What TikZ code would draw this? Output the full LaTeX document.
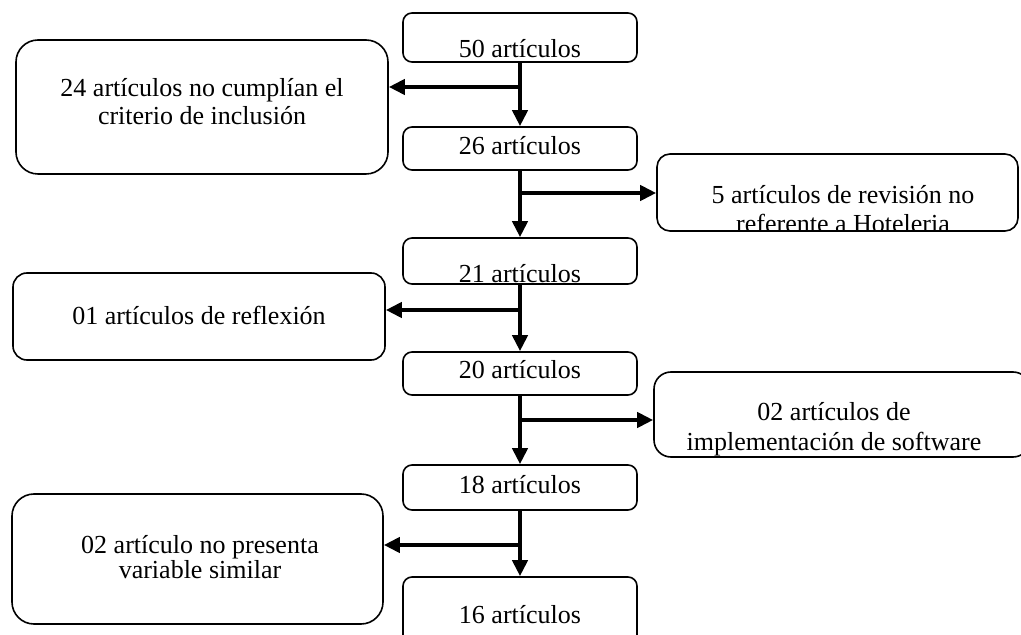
\documentclass[tikz,border=0pt]{standalone}
\usepackage{fontspec}
\setmainfont{Liberation Serif}
\usetikzlibrary{arrows.meta}
\def\px{0.5pt}
\def\midcol{520}

\begin{document}
\begin{tikzpicture}[x=\px,y=-\px]
        \tikzstyle{box}=[draw, line width=0.8pt, inner sep=0pt]
        \tikzstyle{count box}=[box, rounded corners=4.5pt, minimum width=234*\px]
        \tikzstyle{side box}=[box, minimum width=372*\px]
        \tikzstyle{box text}=[inner sep=0pt, align=center, font=\fontsize{13}{14}\selectfont]
        \tikzstyle{flow}=[line width=2.2pt, -{Triangle[length=8pt,width=7.5pt]}]

        \useasboundingbox (0,0) rectangle (1021,635);
        \clip (0,0) rectangle (1021,635);

        % Draw the boxes of the middle column
        \foreach \cnt / \ytop / \hgt / \bl in {50/13/49/58, 26/127/43/155, 21/238/46/283, 20/352/43/379, 18/465/45/493, 16/577/80/623}
        {
            \node[count box, minimum height=\hgt*\px] (C-\cnt) at (\midcol,{\ytop+\hgt/2}) {};
            \node[box text, anchor=base] (T-\cnt) at (\midcol,\bl) {\cnt\ artículos};
        }

        % Draw the excluded articles on the left
        \node[side box, rounded corners=11pt, minimum height=134*\px] (S-24) at (202,107) {};
        \node[box text, anchor=north] (T-24) at (202,78) {24 artículos no cumplían el\\criterio de inclusión};

        \node[side box, rounded corners=7pt, minimum height=87*\px] (S-01) at (199,316.5) {};
        \node[box text, anchor=base] (T-01) at (199,325) {01 artículos de reflexión};

        \node[side box, rounded corners=11pt, minimum width=371*\px, minimum height=130*\px] (S-02b) at (197.5,559) {};
        \node[box text, anchor=north, font=\fontsize{13}{12.5}\selectfont] (T-02b) at (200,535) {02 artículo no presenta\\variable similar};

        % Draw the excluded articles on the right
        \node[side box, rounded corners=6.5pt, minimum width=361*\px, minimum height=77*\px] (S-5) at (837.5,192.5) {};
        \begin{scope}
            \clip (657,150) rectangle (1021,232);
            \node[box text, anchor=north, font=\fontsize{13}{14.5}\selectfont] (T-5) at (843,185) {5 artículos de revisión no\\referente a Hoteleria};
        \end{scope}

        \node[side box, rounded corners=8.5pt, minimum width=376*\px, minimum height=85*\px] (S-02a) at (842,414.5) {};
        \node[box text, anchor=north, font=\fontsize{13}{15}\selectfont] (T-02a) at (834,402) {02 artículos de\\implementación de software};

        % Connect the middle column from top to bottom
        \foreach \source / \dest in {50/26, 26/21, 21/20, 20/18, 18/16}
            \draw[flow] (C-\source) -- (C-\dest);

        % Branch off from the middle column to the side boxes
        \foreach \j / \y / \dest in {1/87/S-24.east, 2/193/S-5.west, 3/310/S-01.east, 4/420/S-02a.west, 5/545/S-02b.east}
        {
            \coordinate (J-\j) at (\midcol,\y);
            \draw[flow] (J-\j) -- (J-\j -| \dest);
        }
\end{tikzpicture}
\end{document}
